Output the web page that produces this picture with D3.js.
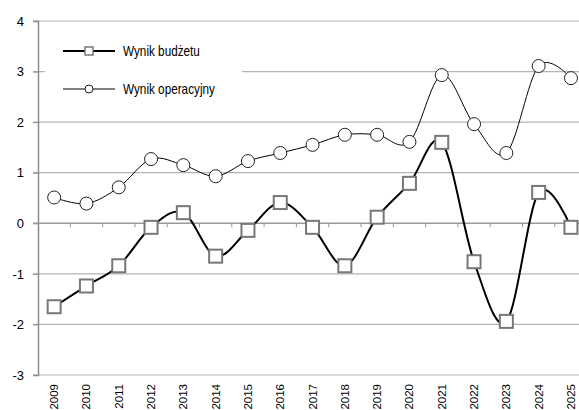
<!DOCTYPE html>
<html>
<head>
<meta charset="utf-8">
<script src="https://cdn.jsdelivr.net/npm/d3@7"></script>
<style>
  body{margin:0;background:#fff;}
  text{font-family:"Liberation Sans",Arial,sans-serif;font-size:12px;fill:#000;}
</style>
</head>
<body>
<div id="chart"></div>
<script>
const years=["2009","2010","2011","2012","2013","2014","2015","2016","2017","2018","2019","2020","2021","2022","2023","2024","2025"]
const budzet=[-1.65,-1.24,-0.84,-0.08,0.21,-0.65,-0.14,0.41,-0.08,-0.84,0.12,0.79,1.6,-0.76,-1.94,0.61,-0.08]
const operacyjny=[0.51,0.39,0.71,1.27,1.15,0.93,1.23,1.39,1.55,1.75,1.75,1.61,2.93,1.96,1.39,3.11,2.87]
const yTicks=[-3,-2,-1,0,1,2,3,4]

const W=579,H=410
const svg=d3.select("#chart").append("svg").attr("width",W).attr("height",H)

const x=d3.scaleBand().domain(years).range([38,38+17*32.3])
const y=d3.scaleLinear().domain([-3,4]).range([375,21])

//gridlines
svg.append("g").selectAll("line").data(yTicks.filter(d=>d!==0)).enter().append("line")
  .attr("x1",33).attr("x2",W).attr("y1",d=>y(d)).attr("y2",d=>y(d))
  .attr("stroke","#b4b4b4").attr("stroke-width",1.2)

//legend background hides gridline
svg.append("rect").attr("x",45).attr("y",36).attr("width",197).attr("height",68).attr("fill","#fff")

//y axis (plain hyphen for negatives, like the original)
const yAxis=svg.append("g").attr("transform","translate(38,0)")
  .call(d3.axisLeft(y).tickValues(yTicks).tickSize(5).tickFormat(d=>String(d)))
yAxis.select(".domain").attr("stroke","#8c8c8c").attr("stroke-width",1.5)
yAxis.selectAll(".tick line").attr("stroke","#8c8c8c")
yAxis.selectAll("text").attr("x",-14).style("font-size","13px").style("font-family","Liberation Sans, Arial")

//zero line with category ticks
svg.append("line").attr("x1",33).attr("x2",W).attr("y1",y(0)).attr("y2",y(0))
  .attr("stroke","#9a9a9a").attr("stroke-width",1.5)
svg.append("g").selectAll("line").data(years.slice(1)).enter().append("line")
  .attr("x1",d=>x(d)).attr("x2",d=>x(d)).attr("y1",y(0)).attr("y2",y(0)+4)
  .attr("stroke","#9a9a9a")

//year labels
svg.append("g").selectAll("text").data(years).enter().append("text")
  .attr("transform",d=>`translate(${x(d)+x.bandwidth()/2+4},384) rotate(-90)`)
  .attr("text-anchor","end")
  .style("font-size","11.5px")
  .text(d=>d)

const cx=(d,i)=>x(years[i])+x.bandwidth()/2
const curve=d3.curveCardinal.tension(0)

//lines
svg.append("path").datum(operacyjny)
  .attr("d",d3.line().x(cx).y(d=>y(d)).curve(curve))
  .attr("fill","none").attr("stroke","#000").attr("stroke-width",1)
svg.append("path").datum(budzet)
  .attr("d",d3.line().x(cx).y(d=>y(d)).curve(curve))
  .attr("fill","none").attr("stroke","#000").attr("stroke-width",2)

//markers
svg.append("g").selectAll("circle").data(operacyjny).enter().append("circle")
  .attr("cx",cx).attr("cy",d=>y(d)).attr("r",6.5)
  .attr("fill","#fff").attr("stroke","#222").attr("stroke-width",1)
svg.append("g").selectAll("rect").data(budzet).enter().append("rect")
  .attr("x",(d,i)=>cx(d,i)-6.5).attr("y",d=>y(d)-6.5).attr("width",13).attr("height",13)
  .attr("fill","#fff").attr("stroke","#777").attr("stroke-width",2)

//legend
const lg=svg.append("g")
lg.append("line").attr("x1",63).attr("x2",115).attr("y1",51).attr("y2",51).attr("stroke","#000").attr("stroke-width",2)
lg.append("rect").attr("x",85).attr("y",47).attr("width",8).attr("height",8).attr("fill","#fff").attr("stroke","#777").attr("stroke-width",1.5)
lg.append("text").attr("transform","translate(123,56) scale(0.84,1)").style("font-size","14px").text("Wynik budżetu")
lg.append("line").attr("x1",63).attr("x2",115).attr("y1",89).attr("y2",89).attr("stroke","#000").attr("stroke-width",1)
lg.append("circle").attr("cx",89).attr("cy",89).attr("r",4).attr("fill","#fff").attr("stroke","#222")
lg.append("text").attr("transform","translate(123,94) scale(0.84,1)").style("font-size","14px").text("Wynik operacyjny")
</script>
</body>
</html>
